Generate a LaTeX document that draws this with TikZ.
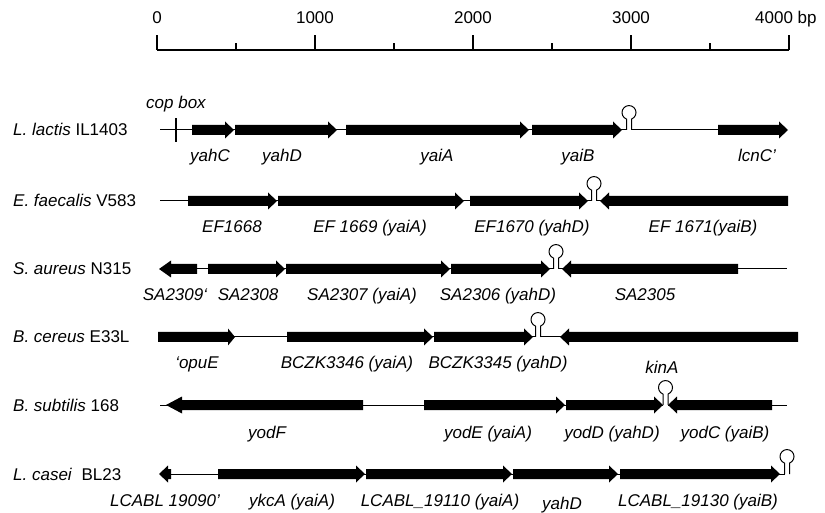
\documentclass[tikz,border=0pt]{standalone}
\usepackage{fontspec}
\setmainfont{Liberation Sans}
\tikzset{
  orglab/.style={anchor=base west, inner sep=0pt, font=\fontsize{17}{20}\selectfont},
  genelab/.style={anchor=base, inner sep=0pt, font=\fontsize{17}{20}\selectfont\itshape},
  scalelab/.style={anchor=base, inner sep=0pt, font=\fontsize{17}{20}\selectfont},
  backbone/.style={line width=1pt},
  hair/.style={line width=1pt},
  scaleline/.style={line width=1.5pt}
}
% gene pointing right: [head length] start, tip, row
\newcommand{\genR}[4][9]{%
  \fill (#2,#4-5) -- (#3-#1,#4-5) -- (#3-#1,#4-8.5) -- (#3,#4) -- (#3-#1,#4+8.5) -- (#3-#1,#4+5) -- (#2,#4+5) -- cycle;}
% gene pointing left: [head length] tip, end, row
\newcommand{\genL}[4][9]{%
  \fill (#3,#4-5) -- (#2+#1,#4-5) -- (#2+#1,#4-8.5) -- (#2,#4) -- (#2+#1,#4+8.5) -- (#2+#1,#4+5) -- (#3,#4+5) -- cycle;}
% terminator hairpin: x, row
\newcommand{\hairpin}[2]{%
  \draw[hair] (#1-2.5,#2) -- (#1-2.5,#2+10.9) arc[start angle=249, end angle=-69, radius=7] -- (#1+2.5,#2);}

\begin{document}
\begin{tikzpicture}[x=1pt, y=1pt]
  \useasboundingbox (0,0) rectangle (825,512);

  % scale bar
  \draw[scaleline] (157,462) -- (789,462);
  \foreach \k in {0,...,4} \draw[scaleline] (157+158*\k,462) -- ++(0,15);
  \foreach \k in {0,...,3} \draw[scaleline] (236+158*\k,462) -- ++(0,7);
  \node[scalelab] (s0) at (157,488) {0};
  \node[scalelab] (s1) at (315,488) {1000};
  \node[scalelab] (s2) at (473,488) {2000};
  \node[scalelab] (s3) at (631,488) {3000};
  \node[scalelab, anchor=base west] (s4) at (755,488) {4000 bp};

  % L. lactis
  \node[orglab] (lactis) at (13,376) {\textit{L. lactis} IL1403};
  \draw[backbone] (160,382) -- (626.5,382);
  \draw[backbone] (631.5,382) -- (718,382);
  \draw[line width=1.5pt] (176,370) -- (176,394);
  \node[genelab] (copbox) at (176,403) {cop box};
  \genR{192}{234}{382} \genR{235}{337}{382} \genR{346}{529}{382}
  \genR{532}{622}{382} \genR{718}{788}{382}
  \hairpin{629}{382}
  \node[genelab] (yahC) at (210,350) {yahC};
  \node[genelab] (yahD) at (282,350) {yahD};
  \node[genelab] (yaiA) at (437,350) {yaiA};
  \node[genelab] (yaiB) at (578,350) {yaiB};
  \node[genelab] (lcnC) at (757,350) {lcnC'};

  % E. faecalis
  \node[orglab] (faecalis) at (13,305) {\textit{E. faecalis} V583};
  \draw[backbone] (160,311) -- (591.5,311);
  \draw[backbone] (596.5,311) -- (610,311);
  \genR{188}{277}{311} \genR{278}{464}{311} \genR{470}{588}{311}
  \genL{600}{788}{311}
  \hairpin{594}{311}
  \node[genelab] (ef68) at (232,279) {EF1668};
  \node[genelab] (ef69) at (370,279) {EF 1669 (yaiA)};
  \node[genelab] (ef70) at (532,279) {EF1670 (yahD)};
  \node[genelab] (ef71) at (703,279) {EF 1671(yaiB)};

  % S. aureus
  \node[orglab] (aureus) at (13,237) {\textit{S. aureus} N315};
  \draw[backbone] (170,243) -- (553.5,243);
  \draw[backbone] (558.5,243) -- (787,243);
  \genL[12]{159}{197}{243} \genR{208}{285}{243} \genR{286}{450}{243}
  \genR{451}{550}{243} \genL{562}{738}{243}
  \hairpin{556}{243}
  \node[genelab] (sa09) at (175,211) {SA2309‘};
  \node[genelab] (sa08) at (248,211) {SA2308};
  \node[genelab] (sa07) at (362,211) {SA2307 (yaiA)};
  \node[genelab] (sa06) at (498,211) {SA2306 (yahD)};
  \node[genelab] (sa05) at (645,211) {SA2305};

  % B. cereus
  \node[orglab] (cereus) at (13,169) {\textit{B. cereus} E33L};
  \draw[backbone] (170,175) -- (535.5,175);
  \draw[backbone] (540.5,175) -- (570,175);
  \genR[7]{158}{235}{175} \genR{287}{433}{175} \genR{434}{533}{175}
  \genL{560}{798}{175}
  \hairpin{538}{175}
  \node[genelab] (opuE) at (197,143) {‘opuE};
  \node[genelab] (bc46) at (347,143) {BCZK3346 (yaiA)};
  \node[genelab] (bc45) at (498,143) {BCZK3345 (yahD)};
  \node[genelab] (kinA) at (662,139) {kinA};

  % B. subtilis
  \node[orglab] (subtilis) at (13,101) {\textit{B. subtilis} 168};
  \draw[backbone] (160,107) -- (663,107);
  \draw[backbone] (668,107) -- (787,107);
  \genL[16]{166}{363}{107} \genR{424}{565}{107} \genR{566}{663}{107}
  \genL{668}{772}{107}
  \hairpin{665.5}{107}
  \node[genelab] (yodF) at (267,74) {yodF};
  \node[genelab] (yodE) at (488,74) {yodE (yaiA)};
  \node[genelab] (yodD) at (612,74) {yodD (yahD)};
  \node[genelab] (yodC) at (725,74) {yodC (yaiB)};

  % L. casei
  \node[orglab] (casei) at (13,32) {\textit{L. casei}\ \ BL23};
  \draw[backbone] (165,38) -- (784.5,38);
  \genL{159}{171}{38} \genR{218}{365}{38} \genR{366}{512}{38}
  \genR{513}{618}{38} \genR{620}{780}{38}
  \hairpin{787}{38}
  \node[genelab] (lc90) at (165,6) {LCABL 19090'};
  \node[genelab] (ykcA) at (292,6) {ykcA (yaiA)};
  \node[genelab] (lc10) at (440,6) {LCABL\_19110 (yaiA)};
  \node[genelab] (lcyahD) at (562,3) {yahD};
  \node[genelab] (lc30) at (698,6) {LCABL\_19130 (yaiB)};
\end{tikzpicture}
\end{document}
